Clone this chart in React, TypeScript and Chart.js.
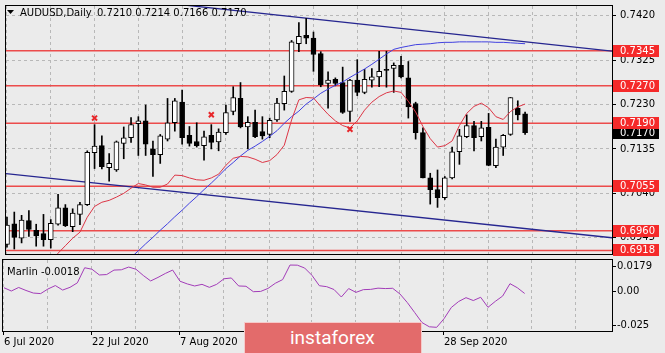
import React, { useEffect, useRef } from 'react';
import { Chart, registerables } from 'chart.js';
Chart.register(...registerables);

const FONT_FAMILY = '"DejaVu Sans", Verdana, sans-serif';
const BG = '#ebebeb';
const GRID = '#b8b8b8';

// ---- Daily candles AUDUSD (6 Jul 2020 .. 13 Oct 2020) ----
const opens = [
  0.6931, 0.6975, 0.6944, 0.6982, 0.6961, 0.6954, 0.6941, 0.6974, 0.7009, 0.6969,
  0.6995, 0.7016, 0.7127, 0.7142, 0.7095, 0.7090, 0.7147, 0.7159, 0.7189, 0.7195,
  0.7135, 0.7123, 0.7156, 0.7191, 0.7235, 0.7164, 0.7151, 0.7142, 0.7164, 0.7150,
  0.7170, 0.7215, 0.7243, 0.7182, 0.7192, 0.7172, 0.7166, 0.7197, 0.7232, 0.7258,
  0.7360, 0.7378, 0.7372, 0.7339, 0.7275, 0.7284, 0.7277, 0.7215, 0.7282, 0.7256,
  0.7282, 0.7289, 0.7305, 0.7307, 0.7314, 0.7287, 0.7232, 0.7170, 0.7073, 0.7048,
  0.7031, 0.7073, 0.7129, 0.7161, 0.7185, 0.7161, 0.7181, 0.7099, 0.7139, 0.7166,
  0.7222, 0.7210,
];
const highs = [
  0.6989, 0.7000, 0.6993, 0.7003, 0.6974, 0.6995, 0.6984, 0.7038, 0.7016, 0.7007,
  0.7021, 0.7131, 0.7187, 0.7163, 0.7125, 0.7152, 0.7182, 0.7202, 0.7204, 0.7229,
  0.7152, 0.7166, 0.7243, 0.7243, 0.7261, 0.7183, 0.7191, 0.7173, 0.7187, 0.7178,
  0.7229, 0.7268, 0.7277, 0.7204, 0.7218, 0.7204, 0.7201, 0.7243, 0.7291, 0.7367,
  0.7405, 0.7414, 0.7385, 0.7343, 0.7300, 0.7287, 0.7310, 0.7284, 0.7326, 0.7305,
  0.7307, 0.7344, 0.7344, 0.7319, 0.7333, 0.7322, 0.7235, 0.7180, 0.7083, 0.7090,
  0.7076, 0.7139, 0.7177, 0.7208, 0.7194, 0.7194, 0.7211, 0.7156, 0.7166, 0.7245,
  0.7238, 0.7214,
];
const lows = [
  0.6925, 0.6921, 0.6934, 0.6948, 0.6927, 0.6927, 0.6923, 0.6972, 0.6969, 0.6958,
  0.6973, 0.7014, 0.7093, 0.7092, 0.7066, 0.7087, 0.7114, 0.7149, 0.7121, 0.7121,
  0.7076, 0.7104, 0.7152, 0.7173, 0.7145, 0.7141, 0.7139, 0.7111, 0.7135, 0.7131,
  0.7166, 0.7208, 0.7180, 0.7135, 0.7159, 0.7156, 0.7159, 0.7194, 0.7218, 0.7256,
  0.7343, 0.7360, 0.7301, 0.7268, 0.7222, 0.7270, 0.7211, 0.7194, 0.7249, 0.7253,
  0.7267, 0.7268, 0.7267, 0.7256, 0.7287, 0.7201, 0.7156, 0.7073, 0.7017, 0.7010,
  0.7027, 0.7071, 0.7102, 0.7159, 0.7131, 0.7152, 0.7099, 0.7095, 0.7121, 0.7164,
  0.7197, 0.7166,
];
const closes = [
  0.6972, 0.6946, 0.6983, 0.6963, 0.6949, 0.6941, 0.6976, 0.7009, 0.6971, 0.6998,
  0.7016, 0.7128, 0.7141, 0.7097, 0.7104, 0.7150, 0.7159, 0.7187, 0.7195, 0.7145,
  0.7123, 0.7163, 0.7191, 0.7238, 0.7159, 0.7147, 0.7142, 0.7161, 0.7149, 0.7171,
  0.7213, 0.7245, 0.7182, 0.7192, 0.7161, 0.7163, 0.7196, 0.7233, 0.7258, 0.7364,
  0.7376, 0.7372, 0.7337, 0.7272, 0.7282, 0.7275, 0.7213, 0.7282, 0.7256, 0.7284,
  0.7289, 0.7301, 0.7303, 0.7314, 0.7289, 0.7225, 0.7170, 0.7073, 0.7048, 0.7031,
  0.7073, 0.7129, 0.7163, 0.7185, 0.7159, 0.7180, 0.7100, 0.7139, 0.7164, 0.7245,
  0.7208, 0.7170,
];

// fast MA (red) and slow MA (blue), null where not drawn
const redMA = [
  null, null, null, null, null, null, 0.6894, 0.6912, 0.6928, 0.6944,
  0.6957, 0.6989, 0.7012, 0.7021, 0.7025, 0.7032, 0.7040, 0.7051, 0.7061, 0.7058,
  0.7053, 0.7053, 0.7060, 0.7079, 0.7078, 0.7073, 0.7069, 0.7068, 0.7073, 0.7081,
  0.7100, 0.7115, 0.7119, 0.7118, 0.7113, 0.7106, 0.7110, 0.7123, 0.7143, 0.7197,
  0.7240, 0.7245, 0.7244, 0.7226, 0.7209, 0.7195, 0.7185, 0.7180, 0.7195, 0.7218,
  0.7235, 0.7247, 0.7255, 0.7259, 0.7256, 0.7237, 0.7214, 0.7183, 0.7157, 0.7139,
  0.7142, 0.7152, 0.7185, 0.7211, 0.7226, 0.7233, 0.7223, 0.7204, 0.7198, 0.7215,
  0.7225, 0.7231,
];
const blueMA = [
  null, null, null, null, null, null, null, null, null, null,
  null, null, null, null, null, null, null, 0.6903, 0.6917, 0.6932,
  0.6946, 0.6961, 0.6975, 0.6990, 0.7004, 0.7019, 0.7033, 0.7048, 0.7062, 0.7077,
  0.7093, 0.7106, 0.7120, 0.7132, 0.7141, 0.7151, 0.7162, 0.7174, 0.7190, 0.7204,
  0.7216, 0.7231, 0.7242, 0.7254, 0.7263, 0.7271, 0.7278, 0.7288, 0.7297, 0.7306,
  0.7316, 0.7327, 0.7338, 0.7348, 0.7352, 0.7355, 0.7358, 0.7359, 0.7360, 0.7362,
  0.7363, 0.7363, 0.7364, 0.7364, 0.7364, 0.7364, 0.7364, 0.7363, 0.7363, 0.7362,
  0.7361, 0.7360,
];

// Marlin oscillator
const marlin = [
  0.0024, 0.0000, 0.0026, 0.0004, -0.0015, -0.0019, 0.0015, 0.0040, 0.0007, 0.0027,
  0.0060, 0.0171, 0.0160, 0.0118, 0.0121, 0.0154, 0.0156, 0.0176, 0.0160, 0.0114,
  0.0074, 0.0100, 0.0129, 0.0154, 0.0072, 0.0052, 0.0037, 0.0049, 0.0027, 0.0049,
  0.0090, 0.0096, 0.0037, 0.0035, -0.0005, -0.0003, 0.0019, 0.0057, 0.0084, 0.0191,
  0.0190, 0.0169, 0.0115, 0.0039, 0.0032, 0.0011, -0.0044, 0.0018, -0.0010, 0.0010,
  0.0012, 0.0021, 0.0018, 0.0020, -0.0022, -0.0085, -0.0158, -0.0232, -0.0263, -0.0267,
  -0.0204, -0.0121, -0.0077, -0.0049, -0.0070, -0.0046, -0.0120, -0.0076, -0.0037, 0.0054,
  0.0024, -0.0018,
];

const levels = [0.7345, 0.7270, 0.7190, 0.7055, 0.6960, 0.6918];
const lastPrice = 0.7170;
const priceTicks = [0.7420, 0.7325, 0.7230, 0.7135, 0.7040, 0.6945];
const marlinTicks = [0.0179, 0, -0.025];
const marlinTickLabels = ['0.0179', '0.00', '-0.025'];
const gridIdx = [0, 6, 12, 18, 24, 30, 36, 42, 48, 54, 60, 66, 72, 78];
const dateTickIdx = [0, 12, 24, 36, 48, 60];
const dateTickLabels = ['6 Jul 2020', '22 Jul 2020', '7 Aug 2020', '25 Aug 2020', '10 Sep 2020', '28 Sep 2020'];
const upperTrend = [{ x: 20, y: 0.7450 }, { x: 82.91, y: 0.7344 }];
const lowerTrend = [{ x: -0.14, y: 0.7082 }, { x: 82.91, y: 0.6945 }];
const fractalMarks = [{ x: 12, y: 0.7201 }, { x: 28, y: 0.7208 }, { x: 47, y: 0.7177 }];

const X_MIN = -0.136;
const X_MAX = 82.91;
const P_MIN = 0.69103;
const P_MAX = 0.74407;
const M_MIN = -0.0294;
const M_MAX = 0.0228;

const font = { family: FONT_FAMILY, size: 10 };

function toPoints(arr: (number | null)[]) {
  const out: { x: number; y: number }[] = [];
  arr.forEach((v, i) => { if (v !== null) out.push({ x: i, y: v }); });
  return out;
}

const xGridScale = (showLabels: boolean) => ({
  type: 'linear',
  min: X_MIN,
  max: X_MAX,
  offset: false,
  afterBuildTicks: (s: any) => { s.ticks = gridIdx.map((v) => ({ value: v })); },
  ticks: showLabels
    ? {
        display: true, autoSkip: false, maxRotation: 0, minRotation: 0, align: 'start', padding: 1,
        color: '#000', font,
        callback: (v: any) => { const k = dateTickIdx.indexOf(Number(v)); return k >= 0 ? dateTickLabels[k] : ''; },
      }
    : { display: false },
  grid: showLabels
    ? {
        color: GRID, offset: false, drawTicks: true, tickLength: 4, tickBorderDash: [],
        tickColor: (c: any) => (c.tick && dateTickIdx.includes(c.tick.value) ? '#000' : 'rgba(0,0,0,0)'),
      }
    : { color: GRID, offset: false, drawTicks: false },
  border: { display: false, dash: [3, 3] },
  afterFit: (s: any) => { s.height = showLabels ? 22 : 0; s.paddingLeft = 0; s.paddingRight = 0; },
});

const mainPlugin = {
  id: 'mainDecor',
  afterDraw(chart: any) {
    const { ctx, chartArea: a, scales } = chart;
    const y = scales.y;
    ctx.save();
    ctx.strokeStyle = '#000';
    ctx.lineWidth = 1;
    ctx.strokeRect(Math.floor(a.left) - 0.5, Math.floor(a.top) - 0.5, a.right - a.left + 1, a.bottom - a.top + 1);
    // title
    ctx.fillStyle = '#000';
    ctx.beginPath();
    ctx.moveTo(7, 10); ctx.lineTo(14, 10); ctx.lineTo(10.5, 14); ctx.closePath(); ctx.fill();
    ctx.font = `10px ${FONT_FAMILY}`;
    ctx.textBaseline = 'alphabetic';
    ctx.textAlign = 'left';
    const n = opens.length;
    ctx.fillText('AUDUSD,Daily', 20, 16);
    ctx.fillText(`${opens[n - 1].toFixed(4)} ${highs[n - 1].toFixed(4)} ${lows[n - 1].toFixed(4)} ${closes[n - 1].toFixed(4)}`, 97, 16);
    // price boxes
    ctx.textBaseline = 'middle';
    const box = (v: number, bg: string) => {
      const py = Math.round(y.getPixelForValue(v));
      ctx.fillStyle = bg;
      ctx.fillRect(613, py - 6, 46, 12);
      ctx.fillStyle = '#fff';
      ctx.fillText(v.toFixed(4), 620, py + 0.5);
    };
    box(lastPrice, '#000');
    levels.forEach((l) => box(l, '#f52a2a'));
    ctx.restore();
  },
};

const subPlugin = {
  id: 'subDecor',
  afterDraw(chart: any) {
    const { ctx, chartArea: a } = chart;
    ctx.save();
    ctx.strokeStyle = '#000';
    ctx.lineWidth = 1;
    ctx.strokeRect(Math.floor(a.left) - 0.5, Math.floor(a.top) - 0.5, a.right - a.left + 1, a.bottom - a.top + 1);
    ctx.fillStyle = '#000';
    ctx.font = `10px ${FONT_FAMILY}`;
    ctx.textBaseline = 'alphabetic';
    ctx.textAlign = 'left';
    ctx.fillText(`Marlin ${marlin[marlin.length - 1].toFixed(4)}`, 7, 17);
    ctx.restore();
  },
};

export default function App() {
  const mainRef = useRef<HTMLCanvasElement>(null);
  const subRef = useRef<HTMLCanvasElement>(null);

  useEffect(() => {
    const idx = opens.map((_, i) => i);
    const wickData = idx.map((i) => ({ x: i, y: [lows[i], highs[i]] }));
    const bodyData = idx.map((i) => ({ x: i, y: [opens[i], closes[i]] }));
    const bodyFill = idx.map((i) => (closes[i] >= opens[i] ? '#ffffff' : '#000000'));

    const main = new Chart(mainRef.current as HTMLCanvasElement, {
      type: 'bar',
      data: {
        datasets: [
          { type: 'scatter', data: fractalMarks, pointStyle: 'crossRot', pointRadius: 3.5, borderColor: '#e8262a', backgroundColor: '#e8262a', borderWidth: 2, order: 0 },
          { type: 'line', data: toPoints(redMA), borderColor: '#dc3545', borderWidth: 1, pointRadius: 0, order: 1 },
          { type: 'line', data: toPoints(blueMA), borderColor: '#4040e0', borderWidth: 1, pointRadius: 0, order: 1 },
          { type: 'bar', data: bodyData, backgroundColor: bodyFill, borderColor: '#000', borderWidth: 1, borderSkipped: false, barThickness: 5, grouped: false, order: 2 },
          { type: 'bar', data: wickData, backgroundColor: '#000', borderWidth: 0, barThickness: 1, grouped: false, order: 3 },
          { type: 'line', data: upperTrend, borderColor: '#262690', borderWidth: 1.3, pointRadius: 0, order: 4 },
          { type: 'line', data: lowerTrend, borderColor: '#262690', borderWidth: 1.3, pointRadius: 0, order: 4 },
          ...levels.map((l) => ({
            type: 'line', data: [{ x: X_MIN, y: l }, { x: X_MAX, y: l }], borderColor: '#ec4b4b', borderWidth: 1.5, pointRadius: 0, order: 5,
          })),
        ] as any,
      },
      options: {
        responsive: false,
        animation: false,
        events: [],
        layout: { padding: { left: 3, top: 3, right: 0, bottom: 2 } },
        plugins: { legend: { display: false }, tooltip: { enabled: false } },
        scales: {
          x: xGridScale(false) as any,
          y: {
            type: 'linear', position: 'right', min: P_MIN, max: P_MAX,
            afterBuildTicks: (s: any) => { s.ticks = priceTicks.map((v) => ({ value: v })); },
            ticks: { callback: (v: any) => Number(v).toFixed(4), color: '#000', font, padding: 4, autoSkip: false },
            grid: { color: GRID, tickLength: 4, tickColor: '#000', tickBorderDash: [], drawTicks: true },
            border: { display: false, dash: [3, 3] },
            afterFit: (s: any) => { s.width = 53; s.paddingTop = 0; s.paddingBottom = 0; },
          } as any,
        },
      } as any,
      plugins: [mainPlugin],
    });

    const sub = new Chart(subRef.current as HTMLCanvasElement, {
      type: 'line',
      data: {
        datasets: [
          { data: toPoints(marlin), borderColor: '#a23cb8', borderWidth: 1, pointRadius: 0 },
        ] as any,
      },
      options: {
        responsive: false,
        animation: false,
        events: [],
        layout: { padding: { left: 3, top: 2, right: 0, bottom: 0 } },
        plugins: { legend: { display: false }, tooltip: { enabled: false } },
        scales: {
          x: xGridScale(true) as any,
          y: {
            type: 'linear', position: 'right', min: M_MIN, max: M_MAX,
            afterBuildTicks: (s: any) => { s.ticks = marlinTicks.map((v) => ({ value: v })); },
            ticks: { callback: (_v: any, i: number) => marlinTickLabels[i], color: '#000', font, padding: 1, autoSkip: false },
            grid: { drawOnChartArea: false, tickLength: 4, tickColor: '#000', drawTicks: true },
            border: { display: false },
            afterFit: (s: any) => { s.width = 53; s.paddingTop = 0; s.paddingBottom = 0; },
          } as any,
        },
      } as any,
      plugins: [subPlugin],
    });

    return () => { main.destroy(); sub.destroy(); };
  }, []);

  return (
    <div style={{ position: 'fixed', left: 0, top: 0, width: 665, height: 353, background: BG, overflow: 'hidden' }}>
      <canvas ref={mainRef} width={665} height={260} style={{ position: 'absolute', left: 0, top: 0 }} />
      <canvas ref={subRef} width={665} height={95} style={{ position: 'absolute', left: 0, top: 258 }} />
      <div
        style={{
          position: 'absolute', left: 244, top: 322, width: 178, height: 40, boxSizing: 'border-box',
          background: '#e36b6b', borderTop: '1px solid #f6caca', borderLeft: '1px solid #f6caca', borderRight: '1px solid #f6caca',
        }}
      >
        <span style={{ position: 'absolute', left: 45, top: 5, color: '#fff', fontFamily: 'Roboto, sans-serif', fontSize: 19, lineHeight: '19px' }}>
          instaforex
        </span>
      </div>
    </div>
  );
}
